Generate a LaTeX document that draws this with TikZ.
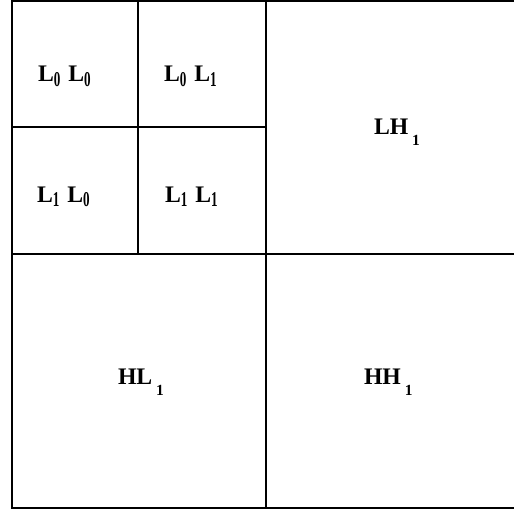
\documentclass[tikz,border=0pt]{standalone}
\usepackage{fontspec}
\setmainfont{Liberation Serif}
\usetikzlibrary{positioning}
\tikzstyle{every node}=[inner sep=0pt, outer sep=0pt, anchor=base west, font=\bfseries\fontsize{13.5}{15}\selectfont]
\tikzstyle{band}=[draw=black, line width=1.1pt]
% subscripts: tall narrow ones for the level-0 cells, lowered further for level 1
\newcommand{\lsub}[1]{\raisebox{-2.4pt}{\scalebox{0.62}[1]{\fontsize{12}{13}\selectfont #1}}}
\newcommand{\hsub}[1]{\hspace{2.2pt}\raisebox{-6.8pt}{\fontsize{8.8}{10}\selectfont #1}}

\begin{document}
\begin{tikzpicture}[x=0.02cm, y=-0.02cm]
	\useasboundingbox (0,0) rectangle (514,510);
	\clip (0,0) rectangle (514,510);

	% outer square and the first split
	\draw[band] (12,1) rectangle (520,508);
	\draw[band] (266,1) -- (266,508);
	\draw[band] (12,254) -- (520,254);

	% second split of the LL band
	\draw[band] (138,1) -- (138,254);
	\draw[band] (12,127) -- (266,127);

	% level 0 cells
	\node (L0L0) at (38,82) {L\lsub{0}\,\,L\lsub{0}};
	\node (L0L1) at (164,82) {L\lsub{0}\,\,L\lsub{1}};
	\node (L1L0) at (37,202) {L\lsub{1}\,\,L\lsub{0}};
	\node (L1L1) at (165,202) {L\lsub{1}\,\,L\lsub{1}};

	% level 1 bands
	\node (LH1) at (374,134) {LH\hsub{1}};
	\node (HL1) at (118,384) {HL\hsub{1}};
	\node (HH1) at (364,384) {HH\hsub{1}};
\end{tikzpicture}
\end{document}
